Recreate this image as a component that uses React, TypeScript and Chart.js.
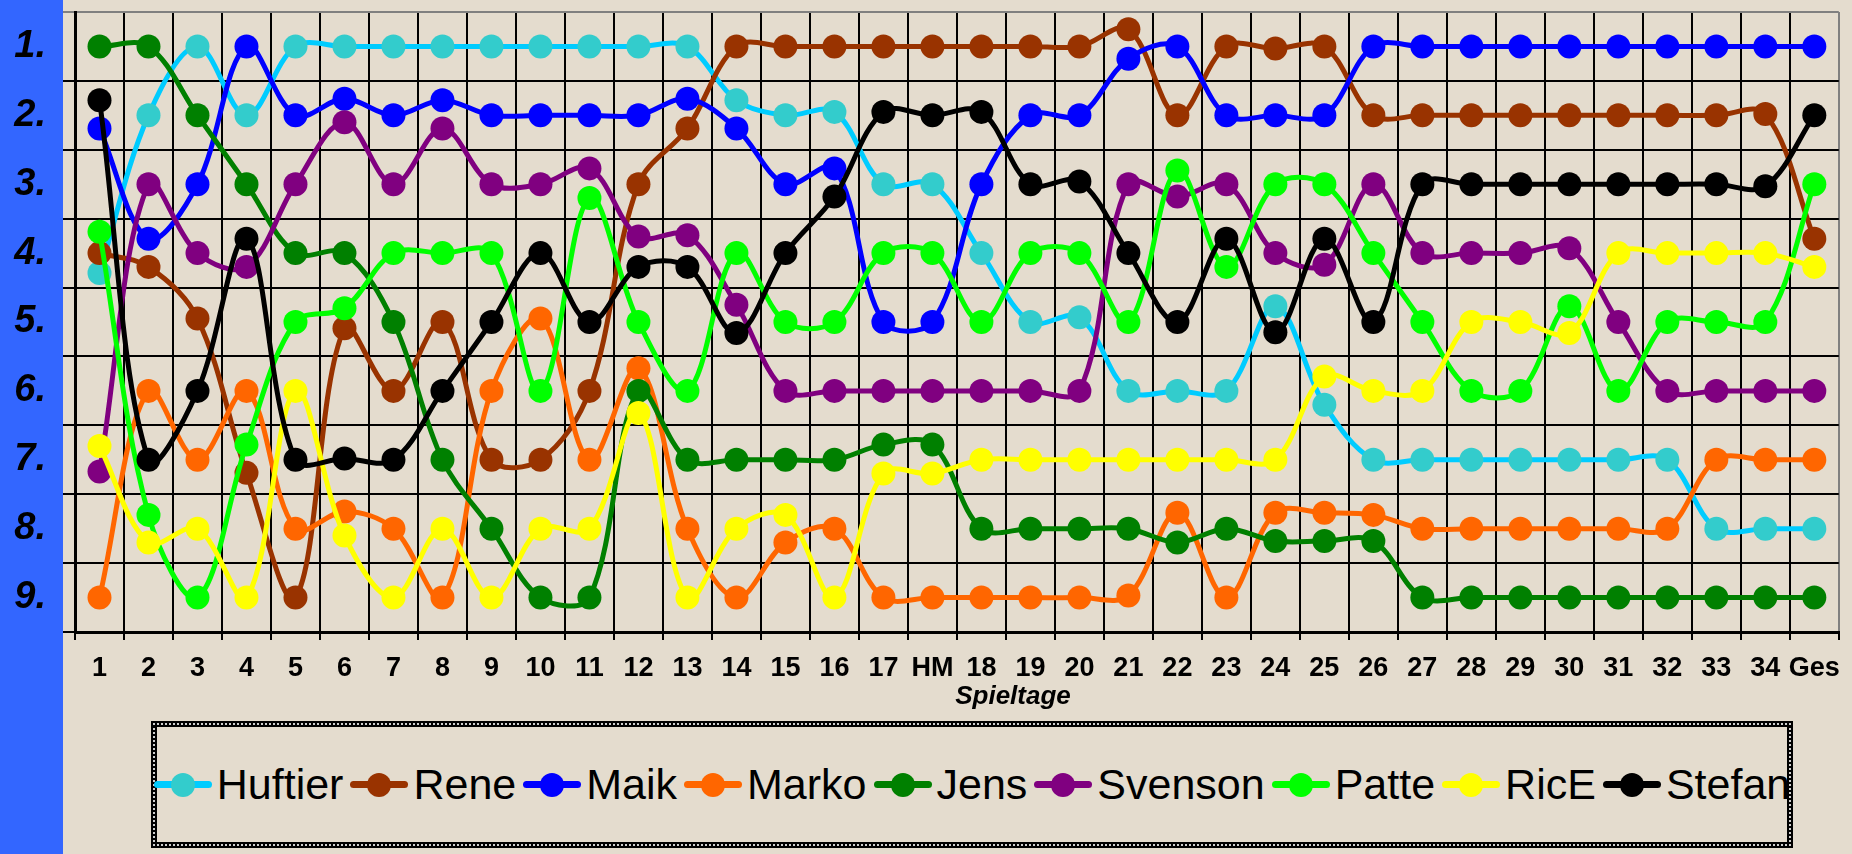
import React, { useEffect, useRef } from "react";
import { Chart, registerables } from "chart.js";

Chart.register(...registerables);

// ---------- data ----------
const CATEGORIES = [
  "1", "2", "3", "4", "5", "6", "7", "8", "9", "10", "11", "12", "13", "14", "15", "16", "17",
  "HM",
  "18", "19", "20", "21", "22", "23", "24", "25", "26", "27", "28", "29", "30", "31", "32", "33", "34",
  "Ges",
];

const HUFTIER = [4.29, 2, 1, 2, 1, 1, 1, 1, 1, 1, 1, 1, 1, 1.78, 2, 1.95, 3, 3, 4, 5, 4.93, 6, 6, 6, 4.77, 6.2, 7, 7, 7, 7, 7, 7, 7, 8, 8, 8];
const RENE = [4, 4.2, 4.95, 7.19, 9, 5.09, 6, 5, 7, 7, 6, 3, 2.19, 1, 1, 1, 1, 1, 1, 1, 1, 0.75, 2, 1, 1.03, 1, 2, 2, 2, 2, 2, 2, 2, 2, 1.98, 3.79];
const MAIK = [2.19, 3.79, 3, 1, 2, 1.76, 2, 1.78, 2, 2, 2, 2, 1.76, 2.19, 3, 2.77, 5, 5, 3, 2, 2, 1.18, 1, 2, 2, 2, 1, 1, 1, 1, 1, 1, 1, 1, 1, 1];
const MARKO = [9, 6, 7, 6, 8, 7.75, 8, 9, 6, 4.95, 7, 5.67, 8, 9, 8.2, 8, 9, 9, 9, 9, 9, 8.97, 7.77, 9, 7.77, 7.77, 7.8, 8, 8, 8, 8, 8, 8, 7, 7, 7];
const JENS = [1, 1, 2, 3, 4, 4, 5, 7, 8, 9, 9, 6, 7, 7, 7, 7, 6.78, 6.78, 8, 8, 8, 8, 8.2, 8, 8.18, 8.18, 8.18, 9, 9, 9, 9, 9, 9, 9, 9, 9];
const SVENSON = [7.17, 3, 4, 4.2, 3, 2.1, 3, 2.19, 3, 3, 2.77, 3.76, 3.74, 4.75, 6, 6, 6, 6, 6, 6, 6, 3, 3.18, 3, 4, 4.17, 3, 4, 4, 4, 3.93, 5, 6, 6, 6, 6];
const PATTE = [3.69, 7.8, 9, 6.78, 5, 4.8, 4, 4, 4, 6, 3.2, 5, 6, 4, 5, 5, 4, 4, 5, 4, 4, 5, 2.8, 4.2, 3, 3, 4, 5, 6, 6, 4.77, 6, 5, 5, 5, 3];
const RICE = [6.8, 8.2, 8, 9, 6, 8.1, 9, 8, 9, 8, 8, 6.32, 9, 8, 7.8, 9, 7.2, 7.2, 7, 7, 7, 7, 7, 7, 7, 5.79, 6, 6, 5, 5, 5.16, 4, 4, 4, 4, 4.2];
const STEFAN = [1.78, 7, 6, 3.79, 7, 6.98, 7, 6, 5, 4, 5, 4.2, 4.2, 5.16, 4, 3.18, 1.95, 2, 1.95, 3, 2.96, 4, 5, 3.79, 5.15, 3.79, 5, 3, 3, 3, 3, 3, 3, 3, 3.03, 2];

const SERIES_NAMES = ["Huftier", "Rene", "Maik", "Marko", "Jens", "Svenson", "Patte", "RicE", "Stefan"];
const SERIES_VALUES = [HUFTIER, RENE, MAIK, MARKO, JENS, SVENSON, PATTE, RICE, STEFAN];
const LINE_COLORS = ["#00CCFF", "#993300", "#0000FF", "#FF6600", "#008000", "#800080", "#00FF00", "#FFFF00", "#000000"];
const MARKER_COLORS = ["#33CCCC", "#993300", "#0000FF", "#FF6600", "#008000", "#800080", "#00FF00", "#FFFF00", "#000000"];

const Y_TICKS = [0.5, 1, 1.5, 2, 2.5, 3, 3.5, 4, 4.5, 5, 5.5, 6, 6.5, 7, 7.5, 8, 8.5, 9, 9.5];
const Y_LABELS = ["1.", "2.", "3.", "4.", "5.", "6.", "7.", "8.", "9."];
const X_TITLE = "Spieltage";

// ---------- styles ----------
const BG = "#E4DCCE";
const STRIP = "#3366FF";
const FONT = '"Liberation Sans", Arial, sans-serif';

const axisTitlePlugin = {
  id: "axisTitleCustom",
  afterDraw(chart: any) {
    const { ctx } = chart;
    ctx.save();
    ctx.font = `italic bold 26px ${FONT}`;
    ctx.fillStyle = "#000";
    ctx.textAlign = "center";
    ctx.textBaseline = "middle";
    ctx.fillText(X_TITLE, 1013, 697);
    ctx.restore();
  },
};

function LegendBox() {
  return (
    <div
      style={{
        position: "absolute",
        left: 151,
        top: 721,
        width: 1642,
        height: 127,
        boxSizing: "border-box",
        border: "6px solid #000",
        outline: "2px dotted #cfcfcf",
        outlineOffset: -4,
        display: "flex",
        alignItems: "center",
        justifyContent: "center",
        gap: 7,
        fontFamily: FONT,
        fontSize: 43,
        lineHeight: 1,
        color: "#000",
        zIndex: 2,
      }}
    >
      {SERIES_NAMES.map((name, i) => (
        <div key={name} style={{ display: "flex", alignItems: "center" }}>
          <div style={{ position: "relative", width: 58, height: 26, marginRight: 5 }}>
            <div
              style={{
                position: "absolute",
                left: 0,
                top: 9.5,
                width: 58,
                height: 7,
                borderRadius: 3.5,
                background: LINE_COLORS[i],
              }}
            />
            <div
              style={{
                position: "absolute",
                left: 17,
                top: 1,
                width: 24,
                height: 24,
                borderRadius: "50%",
                background: MARKER_COLORS[i],
              }}
            />
          </div>
          <span>{name}</span>
        </div>
      ))}
    </div>
  );
}

export default function App() {
  const canvasRef = useRef<HTMLCanvasElement | null>(null);

  useEffect(() => {
    if (!canvasRef.current) return;
    const datasets = SERIES_NAMES.map((name, i) => ({
      label: name,
      data: SERIES_VALUES[i],
      borderColor: LINE_COLORS[i],
      backgroundColor: MARKER_COLORS[i],
      pointBackgroundColor: MARKER_COLORS[i],
      pointBorderWidth: 0,
      pointRadius: 12,
      pointHoverRadius: 12,
      borderWidth: 5,
      tension: 0.35,
      fill: false,
      borderJoinStyle: "round" as const,
      order: SERIES_NAMES.length - i,
    }));

    const chart = new Chart(canvasRef.current, {
      type: "line",
      data: { labels: CATEGORIES, datasets },
      options: {
        animation: false,
        responsive: false,
        maintainAspectRatio: false,
        events: [],
        layout: { padding: { top: 10, right: 11, left: 0, bottom: 0 } },
        plugins: {
          legend: { display: false },
          tooltip: { enabled: false },
          title: { display: false },
        },
        scales: {
          x: {
            type: "category",
            offset: true,
            grid: {
              offset: true,
              color: (c: any) => (c.type === "scale" ? "#808080" : "#000"),
              tickColor: "#000",
              lineWidth: 2,
              tickLength: 8,
              drawTicks: true,
            },
            border: { display: true, color: "#000", width: 3 },
            ticks: {
              autoSkip: false,
              maxRotation: 0,
              minRotation: 0,
              padding: 12,
              color: "#000",
              font: { family: FONT, size: 27, weight: "bold" },
            },
            afterFit: (s: any) => {
              s.height = 88;
            },
          },
          y: {
            type: "linear",
            reverse: true,
            min: 0.5,
            max: 9.5,
            afterBuildTicks: (s: any) => {
              s.ticks = Y_TICKS.map((v) => ({ value: v }));
            },
            grid: {
              color: (c: any) => {
                const v = c.tick ? c.tick.value : null;
                if (v === 0.5) return "#808080";
                if (v !== null && Number.isInteger(v)) return "rgba(0,0,0,0)";
                return "#000";
              },
              lineWidth: 2,
              tickLength: 12,
              drawTicks: true,
            },
            border: { display: true, color: "#000", width: 3 },
            ticks: {
              autoSkip: false,
              padding: 17,
              color: "#000",
              font: { family: FONT, size: 38, weight: "bold", style: "italic" },
              callback: (v: any) => {
                const n = Number(v);
                return Number.isInteger(n) ? Y_LABELS[n - 1] : "";
              },
            },
            afterFit: (s: any) => {
              s.width = 75;
              s.paddingTop = 0;
              s.paddingBottom = 0;
            },
          },
        },
      } as any,
      plugins: [axisTitlePlugin],
    });
    return () => chart.destroy();
  }, []);

  return (
    <div
      style={{
        position: "fixed",
        left: 0,
        top: 0,
        width: 1852,
        height: 854,
        background: BG,
        overflow: "hidden",
      }}
    >
      <div style={{ position: "absolute", left: 0, top: 0, width: 63, height: 854, background: STRIP }} />
      <canvas
        ref={canvasRef}
        width={1852}
        height={720}
        style={{ position: "absolute", left: 0, top: 0, width: 1852, height: 720, zIndex: 1 }}
      />
      <LegendBox />
    </div>
  );
}
